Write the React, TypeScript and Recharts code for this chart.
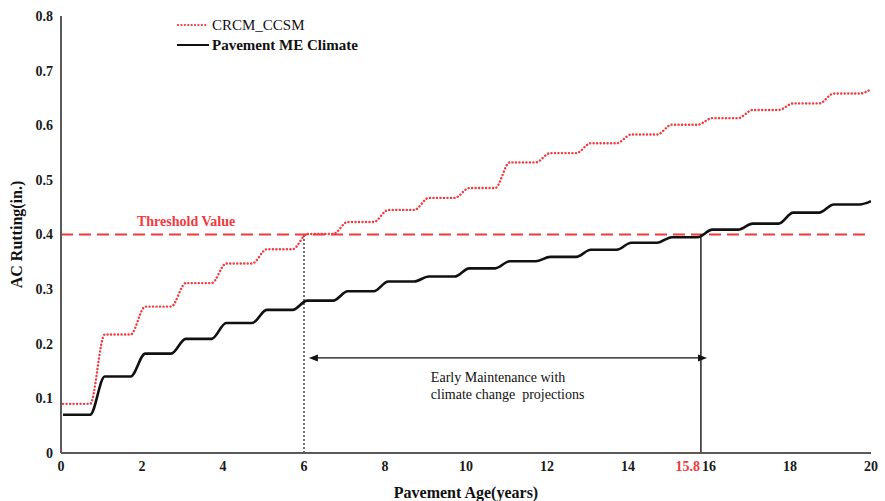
import React from "react";
import {
  LineChart,
  Line,
  XAxis,
  YAxis,
  ReferenceLine,
} from "recharts";

// plateau value reached in each pavement year (0..19)
const YEARS = [0, 1, 2, 3, 4, 5, 6, 7, 8, 9, 10, 11, 12, 13, 14, 15, 16, 17, 18, 19];
const CRCM_CCSM = [
  0.09, 0.217, 0.268, 0.311, 0.347, 0.373, 0.401, 0.423, 0.445, 0.467,
  0.485, 0.532, 0.549, 0.567, 0.583, 0.601, 0.613, 0.628, 0.64, 0.658,
];
const PAVEMENT_ME = [
  0.07, 0.14, 0.182, 0.209, 0.238, 0.262, 0.279, 0.296, 0.314, 0.323,
  0.338, 0.351, 0.359, 0.372, 0.385, 0.395, 0.409, 0.42, 0.44, 0.455,
];
const END_AGE = 20;
const CRCM_END = 0.666;
const PAVEMENT_END = 0.461;

const X_TICKS = [0, 2, 4, 6, 8, 10, 12, 14, 16, 18, 20];
const Y_TICKS = [0, 0.1, 0.2, 0.3, 0.4, 0.5, 0.6, 0.7, 0.8];

const THRESHOLD = 0.4;
const EARLY_AGE = 6;
const BASE_AGE = 15.8;
const ARROW_FROM = 6.12;
const ARROW_TO = 15.95;
const ARROW_Y = 0.174;

const RED = "#f03a3f";
const FONT = "'Liberation Serif', 'DejaVu Serif', serif";

// each year: flat plateau, then a smooth rise into the next year's value
const buildSeries = (vals: number[], endVal: number) =>
  YEARS.flatMap((yr, i) => [
    { x: yr === 0 ? 0.05 : yr + 0.08, y: vals[i] },
    { x: yr + 0.72, y: vals[i] },
  ]).concat({ x: END_AGE, y: endVal });

const crcmData = buildSeries(CRCM_CCSM, CRCM_END);
const pavementData = buildSeries(PAVEMENT_ME, PAVEMENT_END);

const tickStyle = { fill: "#1a1a1a", fontSize: 14, fontWeight: "bold", fontFamily: FONT };

const LegendBox = () => (
  <div
    style={{
      position: "absolute",
      left: 177,
      top: 15,
      fontFamily: FONT,
      fontSize: 15,
      color: "#111",
      lineHeight: "20px",
    }}
  >
    <div style={{ display: "flex", alignItems: "center" }}>
      <svg width={32} height={4} style={{ marginRight: 3 }}>
        <line x1={1} y1={2} x2={31} y2={2} stroke={RED} strokeWidth={2.2} strokeLinecap="round" strokeDasharray="0.1 3.3" />
      </svg>
      <span>CRCM_CCSM</span>
    </div>
    <div style={{ display: "flex", alignItems: "center", fontWeight: "bold" }}>
      <span style={{ width: 32, borderTop: "2px solid #111", marginRight: 3 }} />
      <span>Pavement ME Climate</span>
    </div>
  </div>
);

const ArrowShape = (props: any) => {
  const { x1, y1, x2, y2 } = props;
  return (
    <g>
      <line x1={x1 + 4} y1={y1} x2={x2 - 4} y2={y2} stroke="#111" strokeWidth={1.3} />
      <polygon points={`${x1},${y1} ${x1 + 9},${y1 - 3.5} ${x1 + 9},${y1 + 3.5}`} fill="#111" />
      <polygon points={`${x2},${y2} ${x2 - 9},${y2 - 3.5} ${x2 - 9},${y2 + 3.5}`} fill="#111" />
    </g>
  );
};

export default function App() {
  return (
    <div style={{ position: "absolute", left: 0, top: 0, width: 885, height: 501, background: "#fff" }}>
      <LineChart width={885} height={501} margin={{ top: 16, right: 14, bottom: 18, left: 0 }}>
        <XAxis
          type="number"
          dataKey="x"
          domain={[0, 20]}
          ticks={X_TICKS}
          tick={tickStyle}
          tickLine={false}
          axisLine={{ stroke: "#5a5a5a", strokeWidth: 2 }}
          height={30}
          allowDataOverflow
          label={(p: any) => {
            const vb = p.viewBox;
            return (
              <text
                x={vb.x + vb.width / 2}
                y={vb.y + 45}
                textAnchor="middle"
                fontFamily={FONT}
                fontWeight="bold"
                fontSize={16}
                fill="#111"
              >
                Pavement Age(years)
              </text>
            );
          }}
        />
        <YAxis
          type="number"
          domain={[0, 0.8]}
          ticks={Y_TICKS}
          tick={tickStyle}
          tickLine={false}
          tickFormatter={(v: number) => (v === 0 ? "0" : v.toFixed(1))}
          axisLine={{ stroke: "#5a5a5a", strokeWidth: 2 }}
          width={61}
          label={(p: any) => {
            const vb = p.viewBox;
            const cx = 16;
            const cy = vb.y + vb.height / 2;
            return (
              <text
                x={cx}
                y={cy}
                transform={`rotate(-90 ${cx} ${cy})`}
                textAnchor="middle"
                dominantBaseline="central"
                fontFamily={FONT}
                fontWeight="bold"
                fontSize={16}
                fill="#111"
              >
                AC Rutting(in.)
              </text>
            );
          }}
        />
        <ReferenceLine
          y={THRESHOLD}
          stroke={RED}
          strokeWidth={2}
          strokeDasharray="12 6"
          label={(p: any) => (
            <text
              x={p.viewBox.x + 76}
              y={p.viewBox.y - 9}
              fill={RED}
              fontFamily={FONT}
              fontWeight="bold"
              fontSize={14}
            >
              Threshold Value
            </text>
          )}
        />
        <ReferenceLine
          segment={[{ x: EARLY_AGE, y: 0 }, { x: EARLY_AGE, y: THRESHOLD }]}
          stroke="#111"
          strokeWidth={1.2}
          strokeDasharray="2 2"
        />
        <ReferenceLine
          segment={[{ x: BASE_AGE, y: 0 }, { x: BASE_AGE, y: THRESHOLD }]}
          stroke="#222"
          strokeWidth={1.5}
          label={(p: any) => (
            <text
              x={p.viewBox.x - 1}
              y={p.viewBox.y + p.viewBox.height + 18}
              textAnchor="end"
              fill={RED}
              fontFamily={FONT}
              fontWeight="bold"
              fontSize={14}
            >
              {BASE_AGE}
            </text>
          )}
        />
        <ReferenceLine
          segment={[{ x: ARROW_FROM, y: ARROW_Y }, { x: ARROW_TO, y: ARROW_Y }]}
          shape={ArrowShape}
          label={(p: any) => (
            <text fontFamily={FONT} fontSize={14} fill="#111">
              <tspan x={p.viewBox.x + 122} y={p.viewBox.y + 24}>Early Maintenance with</tspan>
              <tspan x={p.viewBox.x + 122} y={p.viewBox.y + 41}>{"climate change\u00a0 projections"}</tspan>
            </text>
          )}
        />
        <Line
          data={crcmData}
          dataKey="y"
          type="monotone"
          stroke={RED}
          strokeWidth={2.4}
          strokeLinecap="round"
          strokeDasharray="0.1 3.4"
          dot={false}
          activeDot={false}
          isAnimationActive={false}
        />
        <Line
          data={pavementData}
          dataKey="y"
          type="monotone"
          stroke="#111"
          strokeWidth={2.6}
          dot={false}
          activeDot={false}
          isAnimationActive={false}
        />
      </LineChart>
      <LegendBox />
    </div>
  );
}
